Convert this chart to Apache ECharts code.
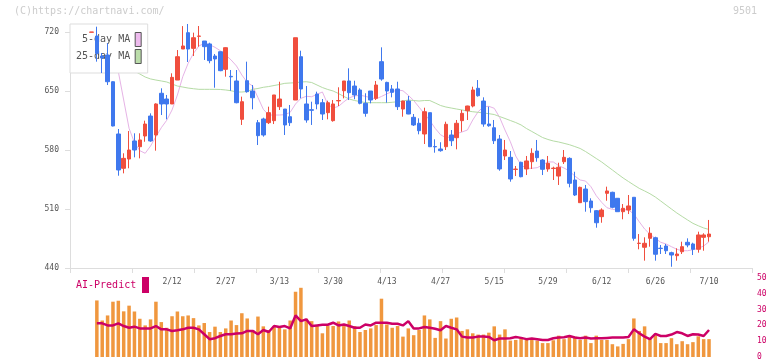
<!DOCTYPE html>
<html>
<head>
<meta charset="utf-8">
<script src="https://cdn.jsdelivr.net/npm/echarts@6/dist/echarts.min.js"></script>
<style>
  html, body { margin: 0; background: #fff; }
  #chart { width: 772px; height: 361px; }
</style>
</head>
<body>
<div id="chart"></div>
<script>
// trading days shown on the chart
const dates = [
  '1/21','1/22','1/23','1/26','1/27','1/28','1/29','1/30','2/2','2/3',
  '2/4','2/5','2/6','2/9','2/10','2/12','2/13','2/16','2/17','2/18',
  '2/19','2/20','2/24','2/25','2/26','2/27','3/2','3/3','3/4','3/5',
  '3/6','3/9','3/10','3/11','3/12','3/13','3/16','3/17','3/18','3/19',
  '3/23','3/24','3/25','3/26','3/27','3/30','3/31','4/1','4/2','4/3',
  '4/6','4/7','4/8','4/9','4/10','4/13','4/14','4/15','4/16','4/17',
  '4/20','4/21','4/22','4/23','4/24','4/27','4/28','4/30','5/1','5/7',
  '5/8','5/11','5/12','5/13','5/14','5/15','5/18','5/19','5/20','5/21',
  '5/22','5/25','5/26','5/27','5/28','5/29','6/1','6/2','6/3','6/4',
  '6/5','6/8','6/9','6/10','6/11','6/12','6/15','6/16','6/17','6/18',
  '6/19','6/22','6/23','6/24','6/25','6/26','6/29','6/30','7/1','7/2',
  '7/3','7/6','7/7','7/8','7/9','7/10'
];
const tickLabels = ['2/12','2/27','3/13','3/30','4/13','4/27','5/15','5/29','6/12','6/26','7/10'];

const opens = [
  719.7, 715.2, 691.5, 692.7, 661.0, 599.0, 558.3, 569.3, 590.7, 583.9,
  596.6, 620.3, 597.8, 647.3, 640.5, 634.6, 663.0, 699.8, 719.2, 700.6,
  714.9, 709.3, 705.8, 691.5, 696.6, 675.7, 667.4, 661.9, 616.4, 662.2,
  650.0, 612.4, 616.8, 612.4, 614.8, 631.4, 628.6, 619.5, 639.3, 690.7,
  634.6, 627.8, 646.4, 636.1, 624.3, 614.8, 638.3, 650.3, 661.9, 655.9,
  651.2, 635.4, 650.0, 641.3, 684.8, 660.2, 652.4, 652.4, 628.6, 638.1,
  618.8, 611.7, 599.0, 624.3, 584.1, 581.2, 583.9, 597.8, 594.6, 614.8,
  626.6, 632.2, 653.2, 638.1, 610.8, 606.4, 593.0, 572.9, 571.3, 556.9,
  565.4, 557.5, 566.1, 578.8, 568.1, 557.5, 558.0, 549.1, 566.1, 570.1,
  544.4, 517.5, 533.7, 519.5, 508.0, 500.9, 528.6, 529.8, 522.7, 506.8,
  508.8, 523.9, 469.1, 464.6, 475.2, 475.9, 463.5, 466.1, 458.2, 454.6,
  459.3, 470.5, 468.5, 462.2, 476.4, 477.1
];
const closes = [
  720.0, 694.7, 689.1, 661.0, 608.5, 556.3, 570.1, 580.0, 580.0, 591.9,
  610.8, 590.7, 634.6, 634.6, 634.6, 666.2, 690.7, 703.4, 699.8, 713.2,
  715.2, 702.6, 686.0, 688.0, 674.1, 701.4, 666.8, 636.1, 637.3, 649.2,
  642.0, 597.0, 597.8, 624.3, 645.3, 640.5, 609.7, 612.4, 713.2, 652.4,
  615.6, 627.1, 634.6, 622.7, 636.1, 634.6, 638.7, 661.9, 648.0, 645.3,
  635.4, 623.5, 639.3, 657.1, 664.2, 650.0, 648.4, 631.4, 638.1, 622.7,
  609.7, 602.9, 625.4, 583.9, 583.7, 579.2, 610.5, 591.0, 611.7, 623.5,
  632.2, 651.2, 644.4, 610.8, 608.8, 591.0, 557.5, 580.0, 545.6, 557.4,
  548.3, 567.0, 576.1, 570.9, 557.1, 564.2, 558.5, 559.5, 571.3, 540.5,
  526.6, 535.7, 518.7, 511.5, 493.7, 508.8, 531.4, 512.0, 506.8, 510.8,
  513.6, 475.2, 469.5, 469.3, 481.2, 456.3, 463.1, 460.5, 455.4, 456.6,
  465.3, 467.3, 462.2, 479.2, 479.2, 480.3
];
const lows = [
  719.7, 684.8, 671.3, 657.1, 608.0, 549.5, 552.3, 558.3, 571.3, 570.1,
  589.8, 589.8, 579.2, 621.5, 616.4, 634.6, 663.0, 699.8, 684.4, 691.5,
  702.6, 686.8, 682.9, 653.9, 673.5, 667.0, 650.3, 635.4, 609.7, 648.0,
  628.3, 585.9, 595.8, 610.8, 610.8, 627.5, 597.8, 608.5, 639.3, 641.3,
  612.4, 609.7, 628.3, 615.6, 616.4, 613.6, 632.2, 641.3, 639.3, 640.2,
  634.2, 619.5, 635.4, 639.3, 662.2, 636.1, 642.5, 627.5, 619.5, 622.5,
  608.5, 598.6, 587.1, 583.5, 576.8, 578.0, 580.0, 584.7, 580.8, 601.7,
  615.6, 630.6, 643.3, 607.6, 607.6, 587.1, 555.4, 568.1, 542.4, 549.1,
  547.6, 550.3, 557.5, 566.1, 550.3, 554.2, 544.4, 538.5, 563.4, 535.7,
  525.4, 517.5, 506.8, 505.6, 487.8, 493.7, 519.8, 510.8, 506.8, 497.8,
  504.0, 472.4, 462.2, 448.7, 465.3, 448.7, 456.6, 456.6, 441.5, 448.7,
  456.6, 464.6, 455.4, 458.2, 460.5, 471.2
];
const highs = [
  720.0, 726.3, 695.1, 706.6, 661.5, 604.9, 576.1, 602.5, 599.8, 599.8,
  614.8, 623.5, 635.4, 653.2, 645.3, 671.0, 698.6, 727.0, 729.5, 719.2,
  727.1, 709.3, 707.3, 693.9, 697.0, 701.8, 674.9, 674.9, 643.3, 684.8,
  657.1, 615.6, 618.3, 631.4, 645.3, 661.0, 628.6, 633.4, 713.2, 697.8,
  655.9, 637.3, 649.2, 640.5, 638.5, 639.3, 654.4, 661.9, 676.9, 662.2,
  653.2, 647.3, 650.0, 661.9, 701.8, 661.0, 657.1, 661.0, 638.5, 644.1,
  622.7, 617.6, 630.2, 624.3, 592.7, 589.2, 613.6, 603.7, 615.6, 627.5,
  632.5, 655.1, 663.0, 642.5, 631.4, 615.6, 597.8, 591.9, 578.8, 561.0,
  566.1, 572.9, 582.0, 591.9, 569.0, 572.9, 560.2, 564.9, 580.0, 571.3,
  554.2, 536.5, 538.5, 522.7, 508.8, 510.8, 536.5, 530.5, 523.0, 515.9,
  526.6, 524.0, 480.3, 476.4, 488.3, 477.1, 467.3, 468.5, 459.3, 463.4,
  471.2, 475.2, 470.0, 483.1, 481.2, 497.0
];

const ma5 = [
  720, 712.9, 704.6, 692.7, 674.9, 672.9, 639.3, 605.7, 588.7, 579.2,
  576.1, 584.7, 595.8, 606.4, 615.2, 627.5, 645.2, 667, 682.9, 694.7,
  703.4, 706.6, 705, 701.8, 697.8, 692.7, 686.8, 679.7, 669, 660.3,
  655.9, 642.3, 628.3, 621.5, 621.5, 621.5, 621.9, 624.7, 634.6, 641.3,
  643.7, 643.2, 646.1, 648.8, 634.2, 629.8, 631.8, 637.2, 641.9, 644.1,
  645, 643.7, 641.9, 640.7, 643.5, 646.7, 649.2, 651.2, 650.3, 644.9,
  638.7, 630.8, 623.1, 615, 605.7, 598.1, 594.5, 595.8, 599.3, 601.4,
  603.7, 615.6, 625.4, 631.4, 631.8, 629.5, 618.8, 603.7, 589.8, 572.9,
  562.2, 558.3, 558.3, 559, 562.2, 565.8, 565.8, 561.4, 558.6, 555.1,
  549.1, 544.4, 543.2, 536.5, 525.8, 517.9, 511.5, 509.6, 508.8, 509.2,
  508.8, 504.1, 494.9, 486.3, 480, 475.2, 470.5, 468.5, 465.3, 462.2,
  460.5, 460.5, 461.7, 463.4, 466.1, 471.2
];
const ma25 = [
  694.5, 692.0, 688.5, 685.0, 682.5, 680.0, 677.5, 675.5, 673.5, 670.2,
  666.6, 664.3, 663, 661.9, 660.7, 658.3, 655.9, 654.7, 653.5, 652.7,
  652, 652, 652, 652, 651.8, 651.2, 650.3, 648.8, 648.8, 649.4,
  652, 653, 654.4, 655.3, 656.5, 657.7, 659.1, 659.5, 659.8, 660.7,
  661, 660.1, 657.1, 654.1, 651.8, 650, 647, 643.5, 640.5, 638.7,
  637.5, 636.3, 636.1, 636.1, 636.1, 636.1, 636.6, 637.3, 638.1, 639.3,
  638.7, 638.1, 638.7, 638.7, 635.8, 632.8, 631, 629.8, 628.6, 627.5,
  626.3, 625.4, 624.7, 623.9, 623.1, 622.1, 619.7, 617.4, 615, 612.6,
  609.7, 605.5, 602, 598.4, 594.8, 592.5, 590.7, 589.5, 587.9, 586.3,
  584.1, 581.8, 578.2, 574.1, 569.9, 565.8, 561, 556.3, 551.5, 546.8,
  542.6, 538.5, 534.5, 531.4, 528.1, 524.2, 519.5, 514.7, 510, 505.3,
  501.1, 497, 493, 490.1, 487.5, 485.7
];

// AI-Predict panel
const aiBars = [
  null, 35.8, 23.1, 26.3, 35.0, 35.6, 28.9, 32.5, 28.8, 24.2,
  20.0, 23.8, 35.0, 22.1, 18.5, 25.8, 28.8, 25.8, 26.3, 24.6,
  20.0, 21.5, 15.8, 19.2, 15.8, 18.1, 23.1, 20.2, 27.7, 24.4,
  17.1, 25.6, 19.4, 17.1, 19.6, 18.5, 17.5, 23.1, 41.3, 43.8,
  24.2, 22.7, 19.6, 15.0, 19.6, 19.6, 22.5, 19.6, 23.1, 19.6,
  15.8, 17.1, 18.1, 20.2, 36.9, 20.6, 18.5, 19.6, 12.9, 18.1,
  13.8, 17.1, 26.3, 23.8, 12.1, 22.7, 11.7, 24.2, 25.0, 16.5,
  17.5, 15.0, 14.2, 14.2, 15.4, 19.4, 14.2, 17.5, 10.4, 10.8,
  12.1, 11.0, 11.0, 10.4, 8.8, 8.8, 10.6, 13.5, 11.3, 13.5,
  12.9, 10.8, 13.5, 8.8, 13.5, 10.8, 10.8, 8.1, 6.7, 8.3,
  11.3, 24.4, 16.5, 19.4, 11.7, 13.8, 8.8, 8.8, 11.9, 8.1,
  10.0, 8.1, 9.4, 13.1, 11.3, 11.3
];
const aiLine = [
  null, 21.3, 21.3, 20.0, 20.0, 21.3, 19.6, 18.5, 19.2, 18.1,
  18.1, 18.1, 19.6, 17.5, 17.5, 16.5, 16.9, 17.5, 18.5, 18.5,
  17.5, 14.4, 11.3, 11.9, 13.3, 14.4, 14.4, 14.8, 15.0, 16.5,
  16.5, 14.4, 17.1, 15.8, 19.6, 19.0, 19.6, 18.1, 26.3, 22.7,
  23.8, 19.6, 20.0, 20.4, 20.4, 21.7, 20.0, 20.6, 19.6, 18.5,
  18.5, 20.6, 20.0, 21.7, 21.7, 21.7, 21.0, 21.0, 20.0, 22.7,
  18.1, 18.1, 19.0, 18.5, 17.9, 16.9, 19.6, 18.5, 17.5, 12.9,
  12.3, 12.3, 12.9, 12.9, 12.7, 10.6, 11.7, 11.7, 11.9, 12.7,
  12.1, 11.3, 11.7, 11.3, 10.8, 10.8, 11.9, 12.3, 12.5, 13.3,
  12.3, 11.9, 12.3, 11.7, 11.9, 11.9, 12.1, 12.3, 12.3, 12.3,
  12.7, 17.5, 15.0, 12.9, 11.3, 14.6, 13.3, 13.3, 14.2, 15.8,
  15.0, 13.3, 14.4, 14.2, 13.3, 17.1
];

// empty slots before the first and after the last trading day
const PAD_L = 4, PAD_R = 8;
function pad(arr, fill) {
  return Array(PAD_L).fill(fill).concat(arr, Array(PAD_R).fill(fill));
}
const cats = pad(dates, '');
const candles = pad(dates.map((d, i) => [opens[i], closes[i], lows[i], highs[i]]), ['-', '-', '-', '-']);

const MONO = '"DejaVu Sans Mono", monospace';
const RED = '#f04e3e';
const BLUE = '#3f78ee';
const CRIMSON = '#cc0066';
const AXIS = '#dddddd';

const chart = echarts.init(document.getElementById('chart'));
chart.setOption({
  animation: false,
  backgroundColor: '#fff',
  grid: [
    { left: 70, right: 20, top: 32, bottom: 93 },
    { left: 70, right: 20, top: 278, bottom: 3 }
  ],
  legend: {
    orient: 'vertical',
    left: 70,
    top: 24,
    align: 'right',
    icon: 'rect',
    itemWidth: 6,
    itemHeight: 14,
    itemGap: 2,
    padding: [8, 6, 9, 6],
    backgroundColor: '#fff',
    borderColor: AXIS,
    borderWidth: 1,
    selectedMode: false,
    z: 3,
    textStyle: { color: '#555', fontFamily: MONO, fontSize: 10 },
    data: [
      { name: '5-day MA', itemStyle: { color: '#eebbee', borderColor: '#555', borderWidth: 1 } },
      { name: '25-day MA', itemStyle: { color: '#bbddaa', borderColor: '#555', borderWidth: 1 } }
    ]
  },
  xAxis: [
    {
      type: 'category', gridIndex: 0, data: cats, boundaryGap: false,
      axisLine: { show: false, onZero: false }, axisTick: { show: false }, splitLine: { show: false },
      axisLabel: {
        interval: (i, v) => tickLabels.includes(v),
        color: '#555', fontFamily: MONO, fontSize: 8, margin: 10
      }
    },
    {
      // plain tick ruler under the price panel
      type: 'value', gridIndex: 0, min: 0, max: 11, interval: 1, position: 'bottom',
      axisLine: { show: true, onZero: false, lineStyle: { color: AXIS } },
      axisTick: { show: true, length: 5, lineStyle: { color: AXIS } },
      axisLabel: { show: false }, splitLine: { show: false }
    },
    { type: 'category', gridIndex: 1, data: cats, boundaryGap: false, show: false }
  ],
  yAxis: [
    {
      type: 'value', gridIndex: 0, min: 440, max: 720, interval: 70, position: 'left',
      axisLine: { show: true, onZero: false, lineStyle: { color: AXIS } },
      axisTick: { show: true, length: 5, lineStyle: { color: AXIS } },
      axisLabel: { color: '#555', fontFamily: MONO, fontSize: 8, margin: 11 },
      splitLine: { show: false }
    },
    {
      type: 'value', gridIndex: 1, min: 0, max: 50, interval: 10, position: 'right',
      axisLine: { show: false }, axisTick: { show: false },
      axisLabel: { color: CRIMSON, fontFamily: MONO, fontSize: 8, margin: 5 },
      splitLine: { show: false }
    }
  ],
  graphic: [
    { type: 'text', left: 14, top: 6, style: { text: '(C)https://chartnavi.com/', fill: '#cccccc', font: '10px ' + MONO } },
    { type: 'text', right: 15, top: 6, style: { text: '9501', fill: '#cccccc', font: '10px ' + MONO } },
    { type: 'text', left: 76, top: 280, style: { text: 'AI-Predict', fill: CRIMSON, font: '10px ' + MONO } },
    { type: 'rect', shape: { x: 142, y: 277, width: 7, height: 16 }, style: { fill: CRIMSON } }
  ],
  series: [
    {
      name: '5-day MA', type: 'line', xAxisIndex: 0, yAxisIndex: 0, data: pad(ma5, '-'),
      symbol: 'none', clip: false, z: 1, silent: true,
      lineStyle: { color: '#e6b3e6', width: 1 }, itemStyle: { color: '#e6b3e6' }
    },
    {
      name: '25-day MA', type: 'line', xAxisIndex: 0, yAxisIndex: 0, data: pad(ma25, '-'),
      symbol: 'none', clip: false, z: 1, silent: true,
      lineStyle: { color: '#b5dba5', width: 1 }, itemStyle: { color: '#b5dba5' }
    },
    {
      name: 'price', type: 'candlestick', xAxisIndex: 0, yAxisIndex: 0, data: candles,
      barWidth: 4, clip: false, z: 5,
      itemStyle: { color: RED, color0: BLUE, borderColor: RED, borderColor0: BLUE, borderWidth: 1 }
    },
    {
      name: 'AI bars', type: 'bar', xAxisIndex: 2, yAxisIndex: 1, data: pad(aiBars, '-'),
      barWidth: 3.5, itemStyle: { color: '#f0973e' }
    },
    {
      name: 'AI-Predict', type: 'line', xAxisIndex: 2, yAxisIndex: 1, data: pad(aiLine, '-'),
      symbol: 'none', z: 4, lineStyle: { color: CRIMSON, width: 2.5 }
    }
  ]
});
</script>
</body>
</html>
